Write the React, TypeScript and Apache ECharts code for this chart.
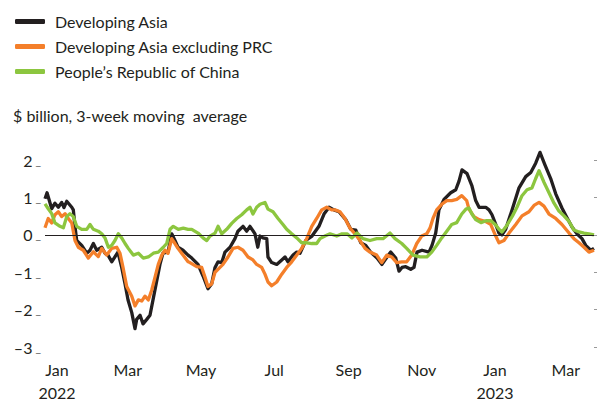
import React, { useEffect, useRef } from "react";
import * as echarts from "echarts";

// x = days since 1 Jan 2022, y = $ billion (3-week moving average)
const developingAsia: [number, number][] = [
  [-10, 0.97], [-8.3, 1.13], [-4.4, 0.7], [-1.7, 0.85], [1.1, 0.74], [3.9, 0.87], [5.8, 0.73], [8.1, 0.9],
  [12.3, 0.74], [13.6, 0.67], [15, 0.23], [16.4, -0.15], [20.6, -0.28], [24.8, -0.49], [27.5, -0.41],
  [30.3, -0.23], [33.1, -0.41], [37.3, -0.33], [40, -0.49], [42.5, -0.54], [45.6, -0.72], [49.2, -0.54],
  [50.8, -0.46], [53.9, -0.87], [56.7, -1.31], [59.2, -1.74], [62.3, -2.08], [65, -2.51], [66.4, -2.26],
  [69.2, -2.15], [71.7, -2.38], [74.8, -2.26], [77.5, -2.15], [80, -1.74], [83.1, -1.23], [85.8, -0.79],
  [88.3, -0.49], [92.5, -0.46], [95.6, 0.03], [98.3, -0.15], [100.8, -0.33], [105, -0.41], [109.2, -0.54],
  [112.3, -0.62], [117.5, -0.79], [121.7, -1.1], [125.8, -1.44], [128.9, -1.31], [131.7, -0.87],
  [134.2, -0.72], [137.3, -0.74], [140, -0.46], [144.2, -0.33], [148.3, -0.1], [150.8, 0.1], [155, 0.23],
  [158.1, 0.1], [160.8, 0.23], [165, 0.03], [167.3, -0.33], [169.2, -0.03], [171.7, -0.08], [174.8, -0.1],
  [175.8, -0.59], [178.9, -0.74], [183.1, -0.79], [187.3, -0.67], [190, -0.59], [192.5, -0.72],
  [196.7, -0.54], [199.8, -0.46], [202.5, -0.49], [207.3, -0.15], [212.5, -0.03], [218.3, 0.23],
  [222.5, 0.56], [226.7, 0.74], [230.8, 0.67], [235, 0.62], [240.6, 0.41], [244.8, 0.15], [249, 0.13],
  [253.1, -0.21], [257.3, -0.28], [261.4, -0.46], [266.7, -0.62], [270.8, -0.79], [275, -0.59],
  [278.1, -0.46], [282.3, -0.62], [285, -0.97], [287.5, -0.87], [290.6, -0.85], [294.8, -0.92],
  [297.5, -0.87], [300, -0.46], [304.2, -0.41], [310, -0.46], [312.5, -0.28], [315.6, 0.05], [318.3, 0.67],
  [322.5, 0.95], [328.1, 1.13], [332.3, 1.21], [335, 1.44], [337.5, 1.74], [341.7, 1.64], [345.8, 1.31],
  [348.9, 0.92], [351.7, 0.74], [357.3, 0.74], [360, 0.67], [362.5, 0.54], [365.6, 0.28], [368.3, 0.05],
  [370.8, 0], [373.9, 0.15], [379.2, 0.67], [385, 1.26], [390.6, 1.56], [394.8, 1.67], [398.9, 1.92],
  [402.5, 2.21], [406.7, 1.87], [411.4, 1.51], [415.6, 1.1], [420.8, 0.72], [425, 0.46], [429.2, 0.21],
  [433.3, 0.03], [437.5, -0.1], [440.6, -0.28], [444.8, -0.41], [447.5, -0.36],
];

const developingAsiaExPRC: [number, number][] = [
  [-10, 0.19], [-7.3, 0.44], [-4.4, 0.32], [-1.7, 0.54], [1.1, 0.62], [3.9, 0.49], [6.7, 0.57], [9.4, 0.44],
  [12.3, 0.32], [15, -0.15], [17.8, -0.33], [21.9, -0.41], [26.1, -0.62], [30.3, -0.45], [34.4, -0.58],
  [37.3, -0.36], [41.4, -0.54], [45.6, -0.36], [49.8, -0.33], [52.5, -0.49], [55, -0.87], [58.1, -1.38],
  [62.3, -1.64], [65, -1.9], [67.8, -1.74], [70.6, -1.77], [73.3, -1.64], [76.1, -1.74], [78.9, -1.48],
  [81.7, -1.13], [84.4, -0.79], [87.3, -0.54], [90, -0.41], [92.5, -0.49], [95.6, -0.1], [98.3, -0.23],
  [100.8, -0.36], [105, -0.54], [109.2, -0.72], [110.8, -0.74], [116.4, -0.85], [120.6, -0.87],
  [123.3, -1.13], [125.8, -1.38], [128.9, -1.31], [131.7, -1.0], [135.8, -0.87], [138.3, -0.79],
  [142.5, -0.59], [146.7, -0.36], [150.8, -0.33], [155, -0.41], [159.2, -0.59], [163.3, -0.67],
  [166.4, -0.79], [170.6, -0.87], [173.3, -1.05], [175.8, -1.26], [178.9, -1.36], [183.1, -1.26],
  [187.3, -1.05], [191.4, -0.87], [195.6, -0.72], [199.8, -0.54], [203.9, -0.36], [208.1, -0.1],
  [212.3, 0.23], [216.4, 0.44], [220.6, 0.67], [224.8, 0.74], [228.9, 0.67], [231.7, 0.67], [235.8, 0.62],
  [240, 0.44], [244.2, 0.18], [248.3, 0.03], [252.5, -0.15], [256.7, -0.36], [260.8, -0.46], [266.4, -0.54],
  [270.6, -0.74], [274.8, -0.54], [278.9, -0.59], [283.1, -0.74], [287.3, -0.72], [291.4, -0.72],
  [295.6, -0.54], [299.8, -0.23], [303.9, -0.03], [308.1, 0.03], [310.8, 0.18], [313.3, 0.44], [316.4, 0.67],
  [320.6, 0.82], [324.8, 0.92], [328.9, 0.92], [333.1, 0.95], [337.3, 1.05], [341.4, 0.92], [343.3, 0.69],
  [347.5, 0.49], [351.7, 0.41], [357.3, 0.36], [361.4, 0.28], [365.6, -0.03], [368.3, -0.21],
  [372.5, -0.15], [376.7, 0.05], [382.3, 0.28], [387.5, 0.51], [393.3, 0.62], [397.5, 0.79], [401.7, 0.87],
  [405.8, 0.77], [410, 0.56], [415.6, 0.44], [420.8, 0.28], [426.7, 0.05], [430.8, -0.1], [435, -0.21],
  [439.2, -0.33], [443.3, -0.46], [447.5, -0.41],
];

const peoplesRepublicOfChina: [number, number][] = [
  [-10, 0.83], [-7.3, 0.7], [-4.4, 0.57], [-1.7, 0.32], [2.5, 0.23], [5.3, 0.19], [8.1, 0.49], [10.8, 0.57],
  [13.6, 0.49], [16.4, 0.23], [20.6, 0.15], [24.8, 0.15], [27.5, 0.28], [30.3, 0.15], [34.4, 0.1],
  [37.3, 0.03], [40, -0.08], [42.8, -0.33], [45.6, -0.28], [48.3, -0.15], [51.1, 0.03], [53.9, -0.08],
  [56.7, -0.23], [59.4, -0.36], [63.6, -0.54], [67.8, -0.49], [71.9, -0.62], [76.1, -0.59], [80.3, -0.49],
  [84.4, -0.46], [88.6, -0.33], [91.4, -0.23], [94.2, 0.15], [96.9, 0.23], [101.1, 0.15], [105.3, 0.18],
  [109.2, 0.15], [112.3, 0.15], [117.5, 0.05], [121.7, -0.08], [124.8, -0.15], [127.5, -0.03],
  [131.7, 0.05], [134.2, 0.23], [137.3, 0.03], [141.4, 0.15], [145.6, 0.31], [149.8, 0.44], [153.9, 0.54],
  [158.1, 0.67], [160.8, 0.74], [163.3, 0.56], [166.4, 0.74], [169.2, 0.82], [173.3, 0.87], [175.8, 0.69],
  [180, 0.62], [184.2, 0.44], [188.3, 0.28], [191.4, 0.15], [195.6, 0.03], [199.8, -0.08], [203.9, -0.21],
  [208.1, -0.21], [212.3, -0.23], [216.4, -0.23], [219.2, -0.1], [223.3, -0.03], [227.5, 0.03],
  [233.1, -0.03], [237.5, 0.03], [241.7, 0.03], [245.8, -0.08], [250, 0.05], [255, -0.1], [260.8, -0.15],
  [266.4, -0.1], [271.7, -0.1], [277.5, 0.05], [281.7, -0.1], [287.3, -0.23], [291.4, -0.36], [296.7, -0.54],
  [302.5, -0.59], [308.1, -0.59], [312.3, -0.46], [316.4, -0.28], [320.6, -0.08], [324.8, 0.1],
  [328.9, 0.28], [333.1, 0.33], [337.3, 0.56], [340.8, 0.69], [343.3, 0.72], [345.8, 0.56], [348.9, 0.41],
  [353.3, 0.33], [357.5, 0.38], [361.7, 0.38], [365.8, 0.26], [368.3, 0.15], [370.8, 0.08], [375, 0.26],
  [379.6, 0.51], [383.3, 0.74], [387.5, 1.05], [391.7, 1.21], [395.8, 1.26], [398.9, 1.51], [401.7, 1.72],
  [405.8, 1.41], [410, 1.13], [414.2, 0.85], [418.3, 0.64], [422.5, 0.51], [426.7, 0.36], [430.8, 0.13],
  [435, 0.08], [439.2, 0.05], [443.3, 0.03], [447.5, 0],
];

const seriesNames = ["Developing Asia", "Developing Asia excluding PRC", "People\u2019s Republic of China"];
const seriesColors = ["#231f20", "#f47f2a", "#8cc63f"];

// month tick positions (days since 1 Jan 2022) and their labels
const monthTickDays = [0, 59, 120, 181, 243, 304, 365, 424];
const monthTickLabels = ["Jan\n2022", "Mar", "May", "Jul", "Sep", "Nov", "Jan\n2023", "Mar"];

const yTickValues = [-3, -2, -1, 0, 1, 2];
const yTickLabels = ["\u20133", "\u20132", "\u20131", "0", "1", "2"];

const unitLabel = "$ billion, 3-week moving  average";

const FONT = "Lato, 'Open Sans', sans-serif";
const TEXT = "#231f20";

export default function App() {
  const ref = useRef<HTMLDivElement>(null);

  useEffect(() => {
    if (!ref.current) return;
    const chart = echarts.init(ref.current, undefined, { renderer: "svg" });
    const datasets = [developingAsia, developingAsiaExPRC, peoplesRepublicOfChina];

    chart.setOption({
      animation: false,
      textStyle: { fontFamily: FONT },
      title: {
        text: unitLabel,
        left: 8,
        top: 102,
        textStyle: { fontFamily: FONT, fontSize: 16, fontWeight: "normal", color: TEXT },
      },
      legend: {
        orient: "vertical",
        left: 10,
        top: 7,
        itemWidth: 30,
        itemHeight: 5,
        itemGap: 6,
        icon: "roundRect",
        data: seriesNames,
        textStyle: { fontFamily: FONT, fontSize: 16, color: TEXT, lineHeight: 19, padding: [0, 0, 0, 5] },
      },
      grid: { left: 45, right: 5, top: 149, bottom: 48, containLabel: false },
      xAxis: {
        type: "value",
        min: -10,
        max: 447.5,
        axisLine: { show: false },
        axisTick: { show: false },
        splitLine: { show: false },
        axisLabel: {
          customValues: monthTickDays,
          formatter: (v: number) => {
            const i = monthTickDays.indexOf(Math.round(v));
            return i >= 0 ? monthTickLabels[i] : "";
          },
          fontFamily: FONT,
          fontSize: 16,
          lineHeight: 23,
          color: TEXT,
          margin: 11,
          verticalAlign: "top",
        },
      },
      yAxis: [
        {
          type: "value",
          min: -3,
          max: 2.3,
          interval: 1,
          axisLine: { show: false },
          axisTick: { show: false },
          splitLine: { show: false },
          axisLabel: {
            customValues: yTickValues,
            formatter: (v: number) => {
              const i = yTickValues.indexOf(Math.round(v));
              return i >= 0 ? `{n|${yTickLabels[i]}}{d| _}` : "";
            },
            margin: 4,
            rich: {
              n: { fontFamily: FONT, fontSize: 16, color: TEXT },
              d: { fontFamily: FONT, fontSize: 12, color: "#555" },
            },
          },
        },
        {
          type: "value",
          position: "right",
          min: -3,
          max: 2.3,
          interval: 1,
          axisLine: { show: false },
          splitLine: { show: false },
          axisLabel: { show: false },
          axisTick: { show: true, customValues: yTickValues, length: 3, lineStyle: { color: "#999", width: 1 } },
        },
      ],
      series: datasets.map((d, i) => ({
        name: seriesNames[i],
        type: "line",
        data: d,
        showSymbol: false,
        symbol: "none",
        lineStyle: { color: seriesColors[i], width: 3.3, join: "round" },
        itemStyle: { color: seriesColors[i] },
        z: 2 + i,
        markLine:
          i === 0
            ? {
                silent: true,
                symbol: "none",
                label: { show: false },
                lineStyle: { color: TEXT, width: 1, type: "solid" },
                data: [{ yAxis: 0 }],
              }
            : undefined,
      })),
    });

    return () => chart.dispose();
  }, []);

  return (
    <div
      ref={ref}
      style={{ position: "absolute", left: 0, top: 0, width: 599, height: 404, background: "#fff" }}
    />
  );
}
